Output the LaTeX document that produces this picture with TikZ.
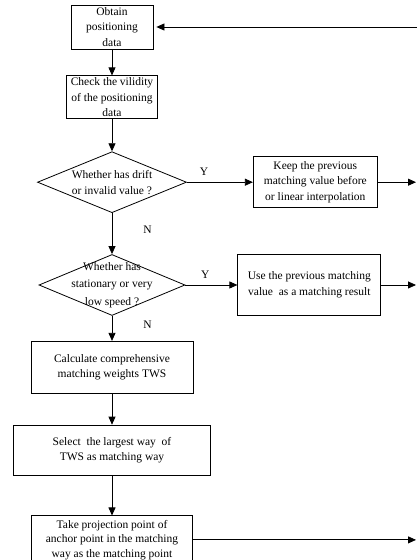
\documentclass[tikz,border=0pt]{standalone}
\usepackage{fontspec}
\setmainfont{Liberation Serif}
\usetikzlibrary{shapes.geometric,arrows.meta,positioning}

\begin{document}
\begin{tikzpicture}[
    node distance=30pt,
    block/.style={rectangle, draw, line width=0.8pt, align=center, inner sep=2pt, font=\fontsize{11.5}{15.5}\selectfont},
    decision/.style={diamond, draw, line width=0.8pt, align=center, inner sep=-25pt, font=\fontsize{11.5}{16}\selectfont},
    flow/.style={-{Triangle[length=8pt,width=7pt]}, line width=0.8pt},
    yn/.style={font=\fontsize{11.5}{13}\selectfont, inner sep=1pt}
]
\useasboundingbox (0,0) rectangle (417pt,-560pt);

% Main column
\node[block, minimum width=82pt, minimum height=44pt] (obtain) at (112pt,-27pt) {Obtain\\positioning\\data};
\node[block, minimum width=91pt, minimum height=43pt, below=26pt of obtain] (check) {Check the vilidity\\of the positioning\\data};
\node[decision, minimum width=149pt, minimum height=61pt, below=32pt of check] (drift) {Whether has drift\\or invalid value ?};
\node[decision, minimum width=146pt, minimum height=61pt, below=41pt of drift, font=\fontsize{11.5}{17.5}\selectfont] (still) {Whether has\\stationary or very\\low speed ?};
\node[block, minimum width=162pt, minimum height=52pt, below=25pt of still] (weights) {Calculate comprehensive\\matching weights TWS};
\node[block, minimum width=197pt, minimum height=50pt, below=31pt of weights] (select) {Select\ \ the largest way\ \ of\\TWS as matching way};
\node[block, minimum width=161pt, minimum height=48pt, below=40pt of select, font=\fontsize{11.5}{14.5}\selectfont] (project) {Take projection point of\\anchor point in the matching\\way as the matching point};

% Side boxes
\node[block, minimum width=124pt, minimum height=51pt, right=66pt of drift] (keep) {Keep the previous\\matching value before\\or linear interpolation};
\node[block, minimum width=143pt, minimum height=61pt, right=52pt of still] (reuse) {Use the previous matching\\value\ \ as a matching result};

% Right rim (picture is cut off there)
\coordinate (rim) at (416pt,0);
\coordinate (rimback) at (417pt,0);

% Arrows down the column
\draw[flow] (obtain.south) -- (check.north);
\draw[flow] (check.south) -- (drift.north);
\draw[flow] (drift.south) -- node[yn, right=30pt, pos=0.4] {N} (still.north);
\draw[flow] (still.south) -- node[yn, right=30pt, pos=0.36] {N} (weights.north);
\draw[flow] (weights.south) -- (select.north);
\draw[flow] (select.south) -- (project.north);

% Yes branches
\draw[flow] (drift.east) -- node[yn, above=5pt, pos=0.26] {Y} (keep.west);
\draw[flow] (still.east) -- node[yn, above=5pt, pos=0.38] {Y} (reuse.west);

% Arrows leaving to the right, and the loop back
\draw[flow] (keep.east) -- (keep.east -| rim);
\draw[flow] (reuse.east) -- (reuse.east -| rim);
\draw[flow] (project.east) -- (project.east -| rim);
\draw[flow, shorten >=3pt] (obtain.east -| rimback) -- (obtain.east);
\end{tikzpicture}
\end{document}
